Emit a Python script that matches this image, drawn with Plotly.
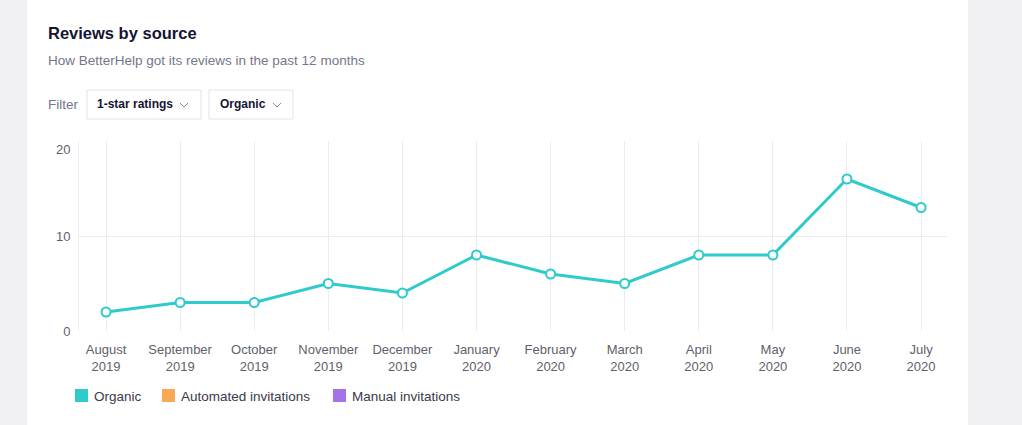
import plotly.graph_objects as go

months = ["August", "September", "October", "November", "December", "January",
          "February", "March", "April", "May", "June", "July"]
years = ["2019", "2019", "2019", "2019", "2019", "2020",
         "2020", "2020", "2020", "2020", "2020", "2020"]
organic = [2, 3, 3, 5, 4, 8, 6, 5, 8, 8, 16, 13]
legend_names = ["Organic", "Automated invitations", "Manual invitations"]
legend_colors = ["#2fcbcb", "#f7a955", "#a473e8"]
y_ticks = [0, 10, 20]

W, H = 1022, 425
L, R, T, B = 79, 947, 141, 331
pw, ph = R - L, B - T

def px(x):
    return (x - L) / pw

def py(y):
    return (B - y) / ph

labels = [f"{m}<br>{y}" for m, y in zip(months, years)]
xs = list(range(len(months)))

fig = go.Figure()
fig.add_trace(go.Scatter(
    x=xs, y=organic, mode="lines+markers", showlegend=False,
    line=dict(color=legend_colors[0], width=3),
    marker=dict(size=9, color="white", line=dict(color=legend_colors[0], width=2)),
    cliponaxis=False, hoverinfo="skip"))

shapes = []
# card background
shapes.append(dict(type="rect", xref="paper", yref="paper", layer="below",
                   x0=px(27), x1=px(968), y0=py(425), y1=py(0),
                   fillcolor="white", line=dict(width=0)))
# filter buttons
for x0, x1 in [(87, 201), (209, 293)]:
    shapes.append(dict(type="rect", xref="paper", yref="paper", layer="below",
                       x0=px(x0), x1=px(x1), y0=py(119), y1=py(90),
                       fillcolor="white", line=dict(color="#e4e4e8", width=1)))
# chevrons
for cx in [184, 277]:
    path = f"M {px(cx-4)},{py(103)} L {px(cx)},{py(107)} L {px(cx+4)},{py(103)}"
    shapes.append(dict(type="path", xref="paper", yref="paper", path=path,
                       line=dict(color="#8a8a96", width=1)))
# legend squares
leg_x = [75, 162, 333]
for lx, c in zip(leg_x, legend_colors):
    shapes.append(dict(type="rect", xref="paper", yref="paper",
                       x0=px(lx), x1=px(lx + 13), y0=py(402), y1=py(389),
                       fillcolor=c, line=dict(width=0)))

ann = []
font = "Liberation Sans, Arial, sans-serif"

def text(t, x, y, size, color):
    ann.append(dict(text=t, x=px(x - 2), y=py(y), xref="paper", yref="paper",
                    xanchor="left", yanchor="middle", showarrow=False,
                    font=dict(size=size, color=color, family=font)))

text("<b>Reviews by source</b>", 48, 33, 16.5, "#141433")
text("How BetterHelp got its reviews in the past 12 months", 48, 60, 13.5, "#76768a")
text("Filter", 48, 104, 13.5, "#76768a")
text("<b>1-star ratings</b>", 97, 104, 12, "#141433")
text("<b>Organic</b>", 220, 104, 12, "#141433")
for lx, name in zip(leg_x, legend_names):
    text(name, lx + 19, 396, 13.5, "#3a3a4a")

# top y tick label (drawn slightly below its gridline, as in the reference)
ann.append(dict(text=str(y_ticks[-1]), x=0, y=y_ticks[-1], xref="paper", yref="y",
                xanchor="right", yanchor="middle", xshift=-7, yshift=-8, showarrow=False,
                font=dict(size=13, color="#5f5f6b", family=font)))

fig.update_layout(
    width=W, height=H,
    margin=dict(l=L, r=W - R, t=T, b=H - B, pad=0),
    paper_bgcolor="#f1f1f4", plot_bgcolor="white",
    shapes=shapes, annotations=ann,
    font=dict(family=font),
    xaxis=dict(range=[-0.365, 11.35], tickmode="array", tickvals=xs, ticktext=labels,
               showgrid=True, gridcolor="#ececef", gridwidth=1, zeroline=False,
               showline=False, ticks="", ticklabelstandoff=9,
               tickfont=dict(size=13, color="#5f5f6b"), fixedrange=True),
    yaxis=dict(range=[0, 20], tickmode="array", tickvals=y_ticks,
               ticktext=[str(v) for v in y_ticks[:-1]] + [""],
               showgrid=True, gridcolor="#ececef", gridwidth=1, zeroline=False,
               showline=True, linecolor="#ececef", linewidth=1, mirror=False,
               ticks="", ticklabelstandoff=5, tickfont=dict(size=13, color="#5f5f6b"),
               fixedrange=True),
)

fig.write_html("out.html", config={"displayModeBar": False},
               post_script="document.body.style.margin='0';document.body.style.overflow='hidden';")
